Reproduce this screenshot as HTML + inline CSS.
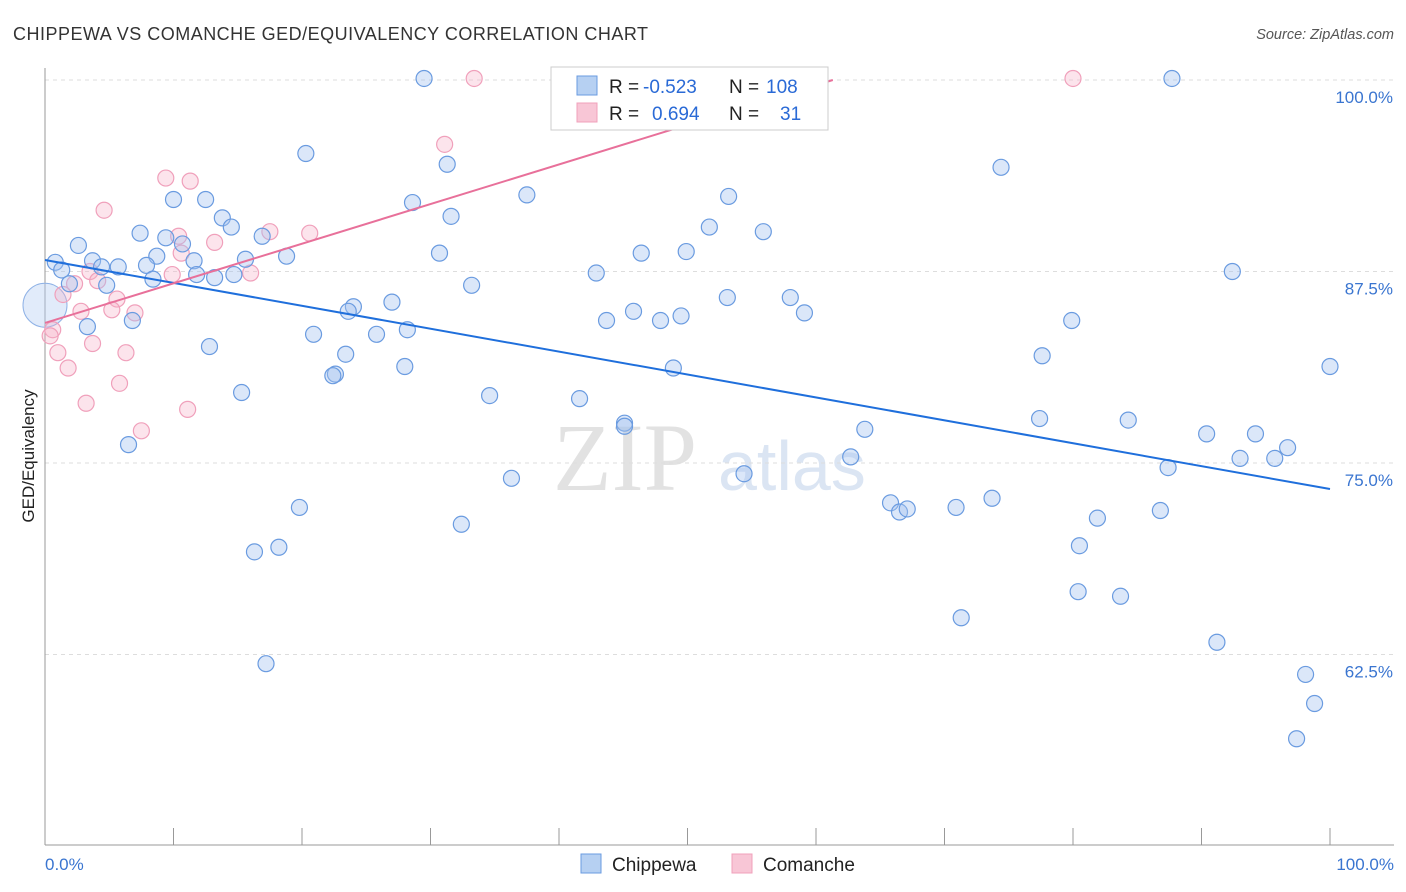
<!DOCTYPE html>
<html><head><meta charset="utf-8"><style>
body{margin:0;background:#fff;font-family:"Liberation Sans",sans-serif;}
#c{position:relative;width:1406px;height:892px;overflow:hidden}
</style></head><body><div id="c">
<svg id="s" width="1406" height="892" xmlns="http://www.w3.org/2000/svg">
<text x="13" y="40" font-size="18" fill="#333" textLength="635">CHIPPEWA VS COMANCHE GED/EQUIVALENCY CORRELATION CHART</text>
<text x="1394" y="39" font-size="14.5" fill="#555" text-anchor="end" font-style="italic">Source: ZipAtlas.com</text>
<text x="0" y="0" font-size="17" fill="#222" text-anchor="middle" transform="translate(34,456) rotate(-90)">GED/Equivalency</text>
<g><text x="553" y="490" font-size="96" font-family="Liberation Serif,serif" fill="#e2e2e2">ZIP</text><text x="718" y="490" font-size="70" fill="#dbe5f3">atlas</text></g>
<g id="grid"></g><g id="axes"></g><g id="pts"></g><g id="lines"></g>
<g>
<rect x="551" y="67" width="277" height="63" fill="#fff" stroke="#ccc"/>
<rect x="577" y="76" width="20" height="19" fill="#b6d0f2" stroke="#6a9be0"/>
<rect x="577" y="103" width="20" height="19" fill="#f8c6d6" stroke="#f0a0bb"/>
<text x="609" y="93" font-size="19" fill="#222">R =</text>
<text x="643" y="93" font-size="19" fill="#2a6ad6">-0.523</text>
<text x="729" y="93" font-size="19" fill="#222">N =</text>
<text x="766" y="93" font-size="19" fill="#2a6ad6">108</text>
<text x="609" y="120" font-size="19" fill="#222">R =</text>
<text x="652" y="120" font-size="19" fill="#2a6ad6">0.694</text>
<text x="729" y="120" font-size="19" fill="#222">N =</text>
<text x="780" y="120" font-size="19" fill="#2a6ad6">31</text>
</g>
<g>
<rect x="581" y="854" width="20" height="19" fill="#b6d0f2" stroke="#6a9be0"/>
<text x="612" y="871" font-size="19" fill="#222">Chippewa</text>
<rect x="732" y="854" width="20" height="19" fill="#f8c6d6" stroke="#f0a0bb"/>
<text x="763" y="871" font-size="19" fill="#222">Comanche</text>
</g>
</svg></div>
<script>
const yTicks=[100,87.5,75,62.5];
const yTickLabels=["100.0%","87.5%","75.0%","62.5%"];
const xTickLabels=["0.0%","100.0%"];
const blueX=[29.5,87.7,20.3,31.3,74.4,10.0,12.5,37.5,53.2,28.6,13.8,31.6,14.5,51.7,7.4,55.9,9.4,16.9,2.6,10.7,18.8,30.7,46.4,49.9,8.7,0.8,3.7,5.7,7.9,11.6,4.4,15.6,1.3,11.8,13.2,14.7,8.4,42.9,92.4,1.9,4.8,33.2,53.1,58.0,27.0,24.0,23.6,45.8,59.1,43.7,47.9,49.5,6.8,3.3,79.9,28.2,20.9,25.8,23.4,12.8,77.6,28.0,48.9,100,22.6,22.4,15.3,34.6,41.6,45.1,45.1,84.3,77.4,63.8,6.5,90.4,94.2,96.7,62.7,93.0,95.7,87.4,54.4,36.3,73.7,65.8,19.8,66.5,67.1,70.9,86.8,81.9,32.4,80.5,18.2,16.3,80.4,83.7,71.3,91.2,17.2,98.1,98.8,97.4];
const blueY=[100.1,100.1,95.2,94.5,94.3,92.2,92.2,92.5,92.4,92.0,91.0,91.1,90.4,90.4,90.0,90.1,89.7,89.8,89.2,89.3,88.5,88.7,88.7,88.8,88.5,88.1,88.2,87.8,87.9,88.2,87.8,88.3,87.6,87.3,87.1,87.3,87.0,87.4,87.5,86.7,86.6,86.6,85.8,85.8,85.5,85.2,84.9,84.9,84.8,84.3,84.3,84.6,84.3,83.9,84.3,83.7,83.4,83.4,82.1,82.6,82.0,81.3,81.2,81.3,80.8,80.7,79.6,79.4,79.2,77.6,77.4,77.8,77.9,77.2,76.2,76.9,76.9,76.0,75.4,75.3,75.3,74.7,74.3,74.0,72.7,72.4,72.1,71.8,72.0,72.1,71.9,71.4,71.0,69.6,69.5,69.2,66.6,66.3,64.9,63.3,61.9,61.2,59.3,57.0];
const pinkX=[33.4,80.0,31.1,9.4,11.3,4.6,17.5,10.4,20.6,13.2,10.6,3.5,9.9,16.0,2.3,1.4,4.1,5.6,2.8,5.2,7.0,0.6,0.4,3.7,1.0,6.3,1.8,5.8,3.2,11.1,7.5];
const pinkY=[100.1,100.1,95.8,93.6,93.4,91.5,90.1,89.8,90.0,89.4,88.7,87.5,87.3,87.4,86.7,86.0,86.9,85.7,84.9,85.0,84.8,83.7,83.3,82.8,82.2,82.2,81.2,80.2,78.9,78.5,77.1];
const bigBlue=[0,85.3];
const blueTrend=[88.25,73.3];
const pinkTrend=[84.14,0.2587];
const X0=45,X1=1330;
function sx(v){return X0+(X1-X0)*v/100;}
function sy(v){return 80+(100-v)*15.32;}
const NS="http://www.w3.org/2000/svg";
function mk(t,a,p){const e=document.createElementNS(NS,t);for(const k in a)e.setAttribute(k,a[k]);document.getElementById(p).appendChild(e);return e;}
yTicks.forEach((t,i)=>{
 const g=mk('line',{x1:45,x2:1394,y1:sy(t),y2:sy(t),stroke:'#ddd','stroke-dasharray':'4,4'},'grid');
 
 
 const l=mk('text',{x:1393,y:sy(t)+23,'font-size':17,fill:'#3a75d0','text-anchor':'end'},'axes');
 l.textContent=yTickLabels[i];
 
 
});
const ax=mk('line',{x1:45,x2:1394,y1:845,y2:845,stroke:'#999'},'axes');


const ay=mk('line',{x1:45,x2:45,y1:68,y2:845,stroke:'#999'},'axes');


for(let i=0;i<=10;i++){const t=mk('line',{x1:sx(i*10),x2:sx(i*10),y1:828,y2:845,stroke:'#999'},'axes');
 
 }
const xl0=mk('text',{x:45,y:870,'font-size':17,fill:'#3a75d0'},'axes');xl0.textContent=xTickLabels[0];


const xl1=mk('text',{x:1394,y:870,'font-size':17,fill:'#3a75d0','text-anchor':'end'},'axes');xl1.textContent=xTickLabels[1];


const bb=mk('circle',{cx:sx(bigBlue[0]),cy:sy(bigBlue[1]),r:22,fill:'rgba(180,206,242,0.4)',stroke:'#8fb2e6'},'pts');


pinkX.forEach((x,i)=>{const c=mk('circle',{cx:sx(x),cy:sy(pinkY[i]),r:8,fill:'rgba(246,178,200,0.35)',stroke:'#f0a0bb','stroke-width':1.2},'pts');
 
 });
blueX.forEach((x,i)=>{const c=mk('circle',{cx:sx(x),cy:sy(blueY[i]),r:8,fill:'rgba(164,196,240,0.4)',stroke:'#6a9be0','stroke-width':1.2},'pts');
 
 });
const bl=mk('line',{x1:sx(0),y1:sy(blueTrend[0]),x2:sx(100),y2:sy(blueTrend[1]),stroke:'#1f6fdc','stroke-width':2},'lines');


const xEnd=(100-pinkTrend[0])/pinkTrend[1];
const pl=mk('line',{x1:sx(0),y1:sy(pinkTrend[0]),x2:sx(xEnd),y2:sy(100),stroke:'#e8709a','stroke-width':2},'lines');


</script></body></html>
